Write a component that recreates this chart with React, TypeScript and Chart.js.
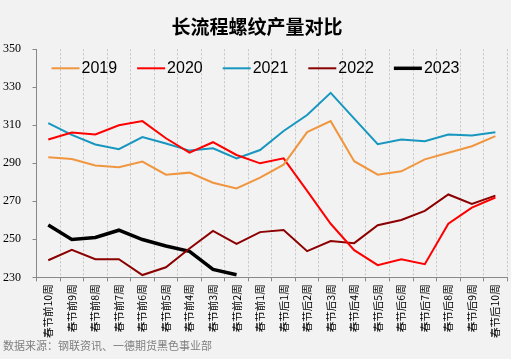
import React, { useEffect, useRef } from "react";
import { Chart, registerables } from "chart.js";

Chart.register(...registerables);

const categories = [
  "春节前10周", "春节前9周", "春节前8周", "春节前7周", "春节前6周",
  "春节前5周", "春节前4周", "春节前3周", "春节前2周", "春节前1周",
  "春节后1周", "春节后2周", "春节后3周", "春节后4周", "春节后5周",
  "春节后6周", "春节后7周", "春节后8周", "春节后9周", "春节后10周",
];

const s2019 = [293.2, 292.3, 288.9, 287.9, 290.9, 284.0, 285.1, 279.8, 276.8, 282.5, 289.3, 306.4, 312.2, 291.1, 284.0, 285.8, 292.1, 295.6, 299.0, 304.3];
const s2020 = [302.5, 306.2, 305.2, 310.0, 312.2, 303.2, 295.6, 301.1, 294.4, 290.0, 292.6, 275.5, 258.2, 244.3, 236.4, 239.5, 236.9, 258.2, 266.7, 272.0];
const s2021 = [311.2, 305.0, 299.9, 297.4, 303.8, 300.4, 296.7, 297.9, 292.6, 297.0, 307.0, 315.4, 327.1, 313.5, 300.1, 302.5, 301.6, 305.2, 304.6, 306.4];
const s2022 = [239.0, 244.5, 239.5, 239.5, 231.2, 235.3, 245.2, 254.4, 247.6, 253.8, 254.9, 243.8, 249.1, 248.0, 257.4, 260.2, 265.0, 273.6, 268.6, 273.0];
const s2023 = [257.5, 249.9, 251.0, 254.8, 249.9, 246.5, 243.7, 234.2, 231.4];

const seriesLabels = ["2019", "2020", "2021", "2022", "2023"];
const yTicks = { min: 230, max: 350, step: 20 };

const title = "长流程螺纹产量对比";
const source = "数据来源：钢联资讯、一德期货黑色事业部";

const inlineLegend = {
  id: "inlineLegend",
  afterDraw(chart: any) {
    const { ctx, chartArea } = chart;
    ctx.save();
    ctx.font = '16px "Liberation Sans"';
    ctx.textBaseline = "middle";
    let x = chartArea.left + 15;
    const y = chartArea.top + 19;
    chart.data.datasets.forEach((ds: any) => {
      ctx.strokeStyle = ds.borderColor;
      ctx.lineWidth = ds.borderWidth;
      ctx.beginPath();
      ctx.moveTo(x, y);
      ctx.lineTo(x + 28, y);
      ctx.stroke();
      ctx.fillStyle = "#000";
      ctx.fillText(ds.label, x + 30, y);
      x += 30 + ctx.measureText(ds.label).width + 20;
    });
    ctx.restore();
  },
};

export default function App() {
  const ref = useRef<HTMLCanvasElement>(null);
  useEffect(() => {
    const colors = ["#F0963F", "#FF0000", "#1797BF", "#8B0000", "#000000"];
    const widths = [2, 2, 2, 2, 3.5];
    const values = [s2019, s2020, s2021, s2022, s2023];
    const chart = new Chart(ref.current!, {
      type: "line",
      data: {
        labels: categories,
        datasets: values.map((v, i) => ({
          label: seriesLabels[i],
          data: v,
          borderColor: colors[i],
          backgroundColor: colors[i],
          borderWidth: widths[i],
          pointRadius: 0,
          tension: 0,
          fill: false,
        })),
      },
      options: {
        responsive: false,
        animation: false,
        devicePixelRatio: 1,
        layout: { padding: { left: 3, right: 0, top: 0, bottom: 18 } },
        plugins: {
          legend: { display: false },
          tooltip: { enabled: false },
          title: {
            display: true,
            text: title,
            color: "#000",
            font: { size: 19, weight: "bold", family: '"Noto Sans CJK SC"' },
            padding: { top: 15, bottom: 11.5 },
          },
        },
        scales: {
          x: {
            offset: true,
            grid: {
              offset: true,
              color: "#c4c4c4",
              lineWidth: 1,
              drawTicks: true,
              tickLength: 4,
              tickColor: "#898989",
            },
            border: { color: "#898989", width: 1, dash: [2, 2] },
            ticks: {
              minRotation: 90,
              maxRotation: 90,
              autoSkip: false,
              padding: 3,
              color: "#000",
              font: { size: 10.5, family: '"Noto Sans CJK SC"' },
            },
          },
          y: {
            min: yTicks.min,
            max: yTicks.max,
            afterFit: (scale: any) => {
              scale.width = 33.5;
            },
            grid: {
              drawOnChartArea: false,
              drawTicks: true,
              tickLength: 4,
              tickColor: "#898989",
            },
            border: { color: "#898989", width: 1 },
            ticks: {
              stepSize: yTicks.step,
              crossAlign: "far",
              color: "#000",
              font: { size: 12, family: '"Liberation Serif"' },
            },
          },
        },
      },
      plugins: [inlineLegend],
    });
    return () => chart.destroy();
  }, []);

  return (
    <div style={{ position: "absolute", left: 0, top: 0, width: 511, height: 359, background: "#f2f2f2", overflow: "hidden" }}>
      <canvas ref={ref} width={511} height={359} style={{ display: "block" }} />
      <div
        style={{
          position: "absolute",
          left: 3,
          top: 338,
          fontSize: 11,
          lineHeight: "14px",
          color: "#7f7f7f",
          fontFamily: '"Noto Sans CJK SC"',
          whiteSpace: "nowrap",
        }}
      >
        {source}
      </div>
    </div>
  );
}
